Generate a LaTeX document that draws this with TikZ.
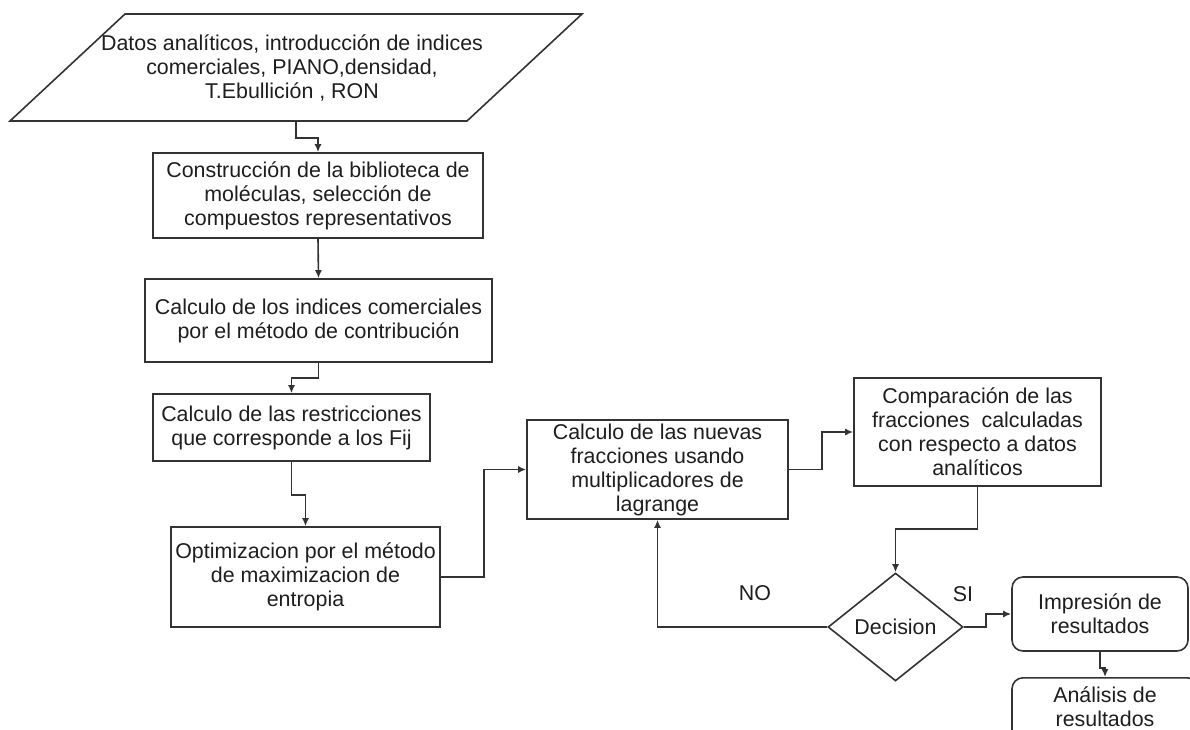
\documentclass[tikz,border=0pt]{standalone}
\usepackage{fontspec}
\setmainfont{Liberation Sans}
\usetikzlibrary{shapes.geometric,arrows.meta}
\newcommand\fsz{\fontsize{21.4}{24}\selectfont}
\definecolor{lc}{HTML}{333333}
\definecolor{tc}{HTML}{1E1E1E}
\begin{document}
\begin{tikzpicture}[x=1pt,y=-1pt,
  box/.style={draw=lc, line width=1.6pt, fill=white, inner sep=0pt, align=center, font=\fsz, text=tc},
  rbox/.style={box, rounded corners=11pt},
  dec/.style={box, shape=diamond, aspect=1.25},
  txt/.style={inner sep=0pt, align=center, font=\fsz, text=tc},
  conn/.style={draw=lc, line width=1.6pt},
  arr/.style={conn, -{Latex[length=8pt,width=7pt]}}
]
\useasboundingbox (0,0) rectangle (1190,730);
\clip (0,0) rectangle (1190,730);
\fill[white] (0,0) rectangle (1190,730);

% input parallelogram
\draw[conn, fill=white, line join=miter] (125,14) -- (582,14) -- (467,121) -- (10,121) -- cycle;
\node[txt] (inp) at (292,68) {Datos analíticos, introducción de indices\\comerciales, PIANO,densidad,\\T.Ebullición , RON};
\coordinate (inB) at (296,121);

\node[box, minimum width=330pt, minimum height=85pt] (b1) at (318,195.5)
  {Construcción de la biblioteca de\\moléculas, selección de\\compuestos representativos};
\node[box, minimum width=347pt, minimum height=83pt] (b2) at (318.5,320.5)
  {Calculo de los indices comerciales\\por el método de contribución};
\node[box, minimum width=277pt, minimum height=67pt] (b3) at (291.5,427.5)
  {Calculo de las restricciones\\que corresponde a los Fij};
\node[box, minimum width=269pt, minimum height=100pt] (b4) at (305.5,577)
  {Optimizacion por el método\\de maximizacion de\\entropia};
\node[box, minimum width=261pt, minimum height=99pt] (b5) at (657.5,469.5)
  {Calculo de las nuevas\\fracciones usando\\multiplicadores de\\lagrange};
\node[box, minimum width=247pt, minimum height=108pt] (b6) at (977.5,432)
  {Comparación de las\\fracciones~ calculadas\\con respecto a datos\\analíticos};
\node[dec, minimum width=135pt, minimum height=108pt] (d) at (895.5,627) {Decision};
\node[rbox, minimum width=176pt, minimum height=74pt] (b7) at (1100,614)
  {Impresión de\\resultados};
\node[rbox, minimum width=186pt, minimum height=80pt, anchor=north] (b8) at (1105,677) {};
\node[txt] (b8t) at (1105,706.5) {Análisis de\\resultados};

\node[txt] (no) at (755,593) {NO};
\node[txt] (si) at (963,594) {SI};

% connectors
\draw[arr] (inB) -- ++(0,17) -| (b1.north);
\draw[arr] (b1.south) -- (b2.north);
\draw[arr] (b2.south) -- ++(0,15) -| (b3.north);
\draw[arr] (b3.south) -- ++(0,33) -| (b4.north);
\draw[arr] (b4.east) -- ++(43,0) |- (b5.west);
\draw[arr] (b5.east) -- ++(33,0) |- (b6.west);
\draw[arr] (b6.south) -- ++(0,42) -| (d.north);
\draw[arr] (d.west) -| (b5.south);
\draw[arr] (d.east) -- ++(22,0) |- (b7.west);
\draw[arr] (b7.south) -- ++(0,16) -| (b8.north);
\end{tikzpicture}
\end{document}
